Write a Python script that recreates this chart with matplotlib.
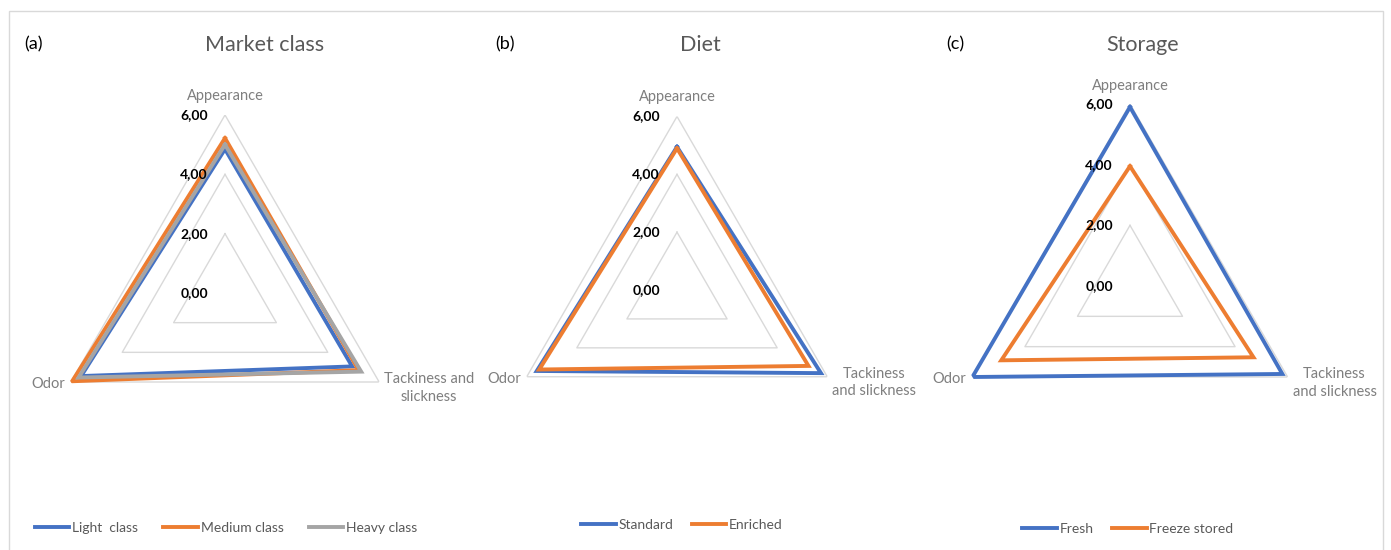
import numpy as np
import matplotlib.pyplot as plt
from matplotlib.transforms import offset_copy
from matplotlib.lines import Line2D
from matplotlib.patches import Rectangle

plt.rcParams['font.family'] = ['Lato', 'DejaVu Sans']

# data
categories = ['Appearance', 'Tackiness and slickness', 'Odor']
ring_values = [2, 4, 6]
tick_values = [0, 2, 4, 6]
tick_labels = ['0,00', '2,00', '4,00', '6,00']

market_names = ['Light  class', 'Medium class', 'Heavy class']
market_light = [4.85, 4.95, 5.6]
market_medium = [5.22, 5.2, 5.95]
market_heavy = [5.0, 5.3, 5.7]

diet_names = ['Standard', 'Enriched']
diet_standard = [4.95, 5.75, 5.6]
diet_enriched = [4.9, 5.25, 5.5]

storage_names = ['Fresh', 'Freeze stored']
storage_fresh = [5.9, 5.8, 6.0]
storage_frozen = [3.95, 4.7, 4.9]

BLUE, ORANGE, GRAY = '#4472C4', '#ED7D31', '#A5A5A5'
W, H = 1391, 550

fig = plt.figure(figsize=(W / 100, H / 100), dpi=100)

# light frame round the whole picture
fig.patches.append(Rectangle((9 / W, -0.02), 1374 / W, (H - 11) / H + 0.02,
                             transform=fig.transFigure, fill=False,
                             edgecolor='#D9D9D9', lw=1))

angles = np.array([0, 2 * np.pi / 3, 4 * np.pi / 3])
closed = np.append(angles, angles[0])


def off(ax, dx, dy):
    return offset_copy(ax.transData, fig=fig, x=dx, y=dy, units='dots')


def radar(cx, cy, R, series, names, colors, tack_label, app_dy,
          title, title_x, letter, letter_x, leg_x, leg_y, colsp):
    ax = fig.add_axes([(cx - R) / W, (H - cy - R) / H, 2 * R / W, 2 * R / H],
                      projection='polar')
    ax.set_theta_offset(np.pi / 2)
    ax.set_theta_direction(-1)
    ax.set_ylim(0, 6)
    ax.grid(False)
    ax.spines['polar'].set_visible(False)
    ax.set_xticks([])
    ax.set_yticks([])
    ax.patch.set_alpha(0)

    for r in ring_values:
        ax.plot(closed, [r] * 4, color='#D9D9D9', lw=1, zorder=1)

    for vals, c in zip(series, colors):
        ax.plot(closed, list(vals) + [vals[0]], color=c, lw=2.8,
                solid_joinstyle='miter', zorder=3)

    for v, lbl in zip(tick_values, tick_labels):
        ax.text(0, v, lbl, transform=off(ax, -17, 0), ha='right', va='center',
                fontsize=10, fontweight='bold', color='black', zorder=4)

    ax.text(angles[0], 6, categories[0], transform=off(ax, 0, app_dy),
            ha='center', va='center', fontsize=10.5, color='#7F7F7F')
    ax.text(angles[1], 6, tack_label, transform=off(ax, 5, -6),
            ha='left', va='center', multialignment='center',
            fontsize=10.5, color='#7F7F7F', linespacing=1.3)
    ax.text(angles[2], 6, categories[2], transform=off(ax, -6, -2),
            ha='right', va='center', fontsize=10.5, color='#7F7F7F')

    fig.text(title_x / W, 1 - 45 / H, title, ha='center', va='center',
             fontsize=15.5, color='#595959')
    fig.text(letter_x / W, 1 - 44 / H, letter, ha='left', va='center',
             fontsize=13, color='black')

    handles = [Line2D([], [], color=c, lw=2.8) for c in colors]
    fig.legend(handles, names, loc='center',
               bbox_to_anchor=(leg_x / W, 1 - leg_y / H), ncol=len(names),
               frameon=False, fontsize=10, handlelength=2.5,
               handletextpad=0.2, columnspacing=colsp, labelcolor='#595959')


radar(225, 293, 178, [market_light, market_medium, market_heavy],
      market_names, [BLUE, ORANGE, GRAY], 'Tackiness and\nslickness', 19,
      'Market class', 265, '(a)', 24, 226, 528, 1.8)
radar(677, 290, 173.5, [diet_standard, diet_enriched],
      diet_names, [BLUE, ORANGE], 'Tackiness\nand slickness', 20,
      'Diet', 700, '(b)', 495, 682, 525, 1.3)
radar(1130, 286, 182, [storage_fresh, storage_frozen],
      storage_names, [BLUE, ORANGE], 'Tackiness\nand slickness', 18,
      'Storage', 1143, '(c)', 946, 1128, 529, 1.3)

fig.savefig('out.png', dpi=100)
